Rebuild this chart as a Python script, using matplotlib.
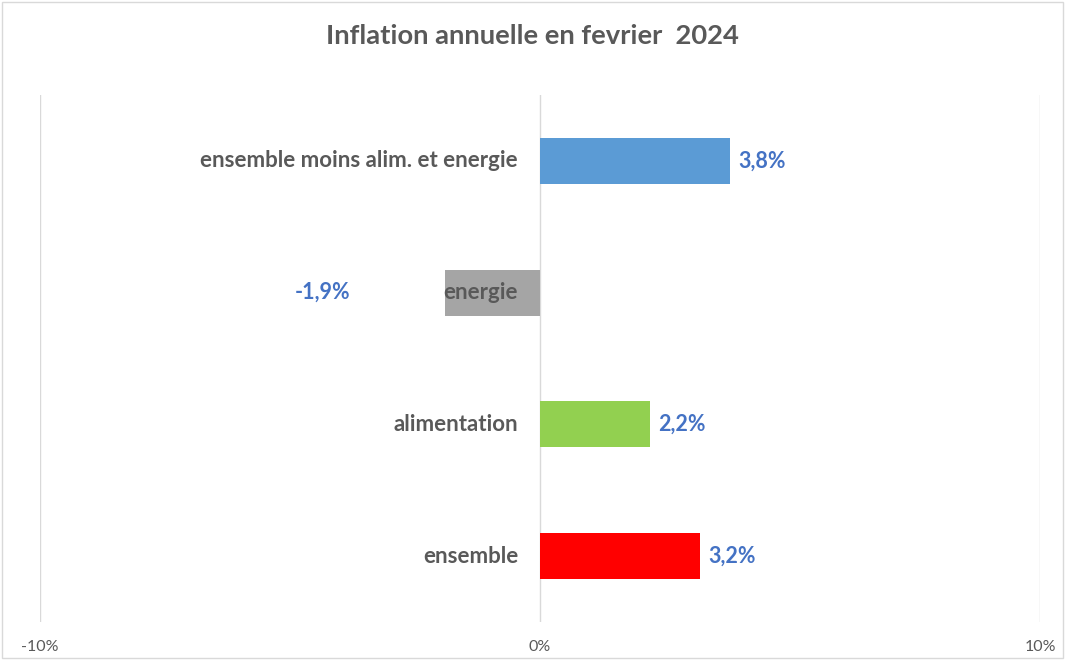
import matplotlib.pyplot as plt
from matplotlib.patches import Rectangle

categories = ['ensemble', 'alimentation', 'energie', 'ensemble moins alim. et energie']
values = [3.2, 2.2, -1.9, 3.8]
colors = ['#FF0000', '#92D050', '#A5A5A5', '#5B9BD5']
ticks = [-10, 0, 10]
tick_labels = ['-10%', '0%', '10%']

plt.rcParams['font.family'] = ['Lato', 'DejaVu Sans']

fig = plt.figure(figsize=(10.65, 6.6), dpi=100)
ax = fig.add_axes([40 / 1065, 38 / 660, 1000 / 1065, 527 / 660])

ypos = list(range(len(categories)))
ax.barh(ypos, values, height=0.35, color=colors, zorder=2)

for y, cat, v in zip(ypos, categories, values):
    ax.text(-0.44, y, cat, ha='right', va='center', fontsize=16,
            fontweight='bold', color='#595959', zorder=3)
    lbl = f'{v:.1f}%'.replace('.', ',')
    if v >= 0:
        ax.text(v + 0.16, y, lbl, ha='left', va='center', fontsize=15.5,
                fontweight='bold', color='#4472C4', zorder=3)
    else:
        ax.text(v - 1.9, y, lbl, ha='right', va='center', fontsize=15.5,
                fontweight='bold', color='#4472C4', zorder=3)

ax.set_xlim(-10, 10)
ax.set_ylim(-0.5, 3.5)
ax.set_xticks(ticks)
ax.set_xticklabels(tick_labels, fontsize=11.5, color='#595959')
ax.set_yticks([])
ax.tick_params(axis='x', length=0, pad=13)
for t in ticks:
    ax.axvline(t, color='#D9D9D9', lw=1, zorder=1)
for s in ax.spines.values():
    s.set_visible(False)

fig.text(0.5, 1 - 36 / 660, 'Inflation annuelle en fevrier  2024', ha='center', va='center',
         fontsize=19.7, fontweight='bold', color='#595959')

fig.patches.append(Rectangle((2 / 1065, 2 / 660), 1 - 4 / 1065, 1 - 4 / 660,
                             transform=fig.transFigure, fill=False, edgecolor='#D9D9D9', lw=1))

fig.savefig('out.png', dpi=100)
